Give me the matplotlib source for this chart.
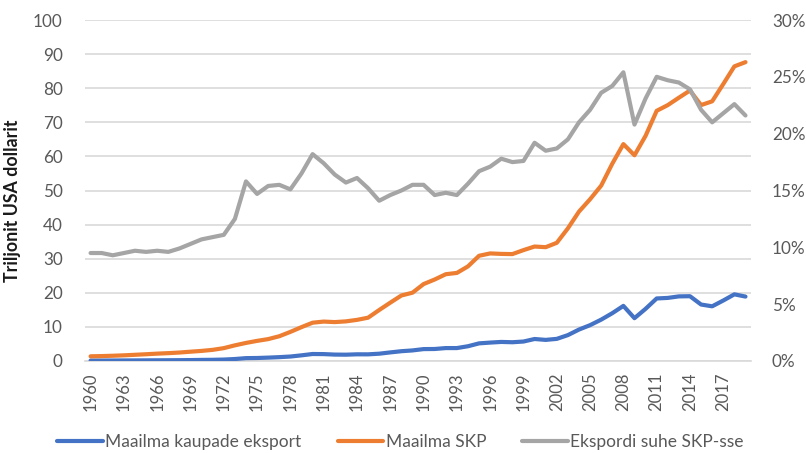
import matplotlib
matplotlib.use("Agg")
import matplotlib.pyplot as plt
from matplotlib.ticker import FuncFormatter, MultipleLocator

plt.rcParams['font.family'] = ['Lato', 'DejaVu Sans']

years = list(range(1960, 2020))

exports = [0.13, 0.13, 0.14, 0.16, 0.17, 0.19, 0.20, 0.22, 0.24, 0.27,
           0.32, 0.35, 0.42, 0.58, 0.84, 0.88, 0.99, 1.13, 1.31, 1.66,
           2.05, 2.02, 1.88, 1.85, 1.96, 1.95, 2.14, 2.52, 2.87, 3.10,
           3.49, 3.52, 3.79, 3.79, 4.33, 5.17, 5.40, 5.59, 5.50, 5.71,
           6.45, 6.19, 6.49, 7.59, 9.22, 10.51, 12.13, 14.02, 16.16, 12.56,
           15.30, 18.34, 18.50, 18.95, 19.00, 16.56, 16.04, 17.74, 19.55, 18.89]

gdp = [1.38, 1.44, 1.54, 1.66, 1.82, 1.98, 2.16, 2.30, 2.48, 2.73,
       2.96, 3.27, 3.77, 4.59, 5.30, 5.90, 6.42, 7.26, 8.54, 9.93,
       11.23, 11.56, 11.41, 11.62, 12.06, 12.70, 14.95, 17.11, 19.21, 20.03,
       22.56, 23.90, 25.45, 25.83, 27.75, 30.86, 31.55, 31.41, 31.35, 32.52,
       33.57, 33.38, 34.66, 38.90, 43.81, 47.44, 51.43, 57.86, 63.61, 60.33,
       66.04, 73.37, 75.05, 77.22, 79.33, 75.05, 76.16, 81.23, 86.41, 87.65]

ratio_pct = [9.5, 9.5, 9.3, 9.5, 9.7, 9.6, 9.7, 9.6, 9.9, 10.3,
             10.7, 10.9, 11.1, 12.5, 15.8, 14.7, 15.4, 15.5, 15.1, 16.5,
             18.2, 17.4, 16.4, 15.7, 16.1, 15.2, 14.1, 14.6, 15.0, 15.5,
             15.5, 14.6, 14.8, 14.6, 15.6, 16.7, 17.1, 17.8, 17.5, 17.6,
             19.2, 18.5, 18.7, 19.5, 21.0, 22.1, 23.6, 24.2, 25.4, 20.8,
             23.1, 25.0, 24.7, 24.5, 23.9, 22.1, 21.0, 21.8, 22.6, 21.6]

tick_years = list(range(1960, 2018, 3))

labels = ["Maailma kaupade eksport", "Maailma SKP", "Ekspordi suhe SKP-sse"]
colors = ["#4472C4", "#ED7D31", "#A5A5A5"]
text_color = "#595959"

fig = plt.figure(figsize=(8.06, 4.53), dpi=100)
ax = fig.add_axes([0.1055, 0.2031, 0.9318 - 0.1055, 0.9558 - 0.2031])
ax2 = ax.twinx()

l1, = ax.plot(years, exports, color=colors[0], lw=3.0, solid_capstyle='round', zorder=3)
l2, = ax.plot(years, gdp, color=colors[1], lw=3.0, solid_capstyle='round', zorder=3)
l3, = ax2.plot(years, [v / 100 for v in ratio_pct], color=colors[2], lw=3.0,
               solid_capstyle='round', zorder=3)

ax.set_xlim(1959.5, 2019.5)
ax.set_ylim(0, 100)
ax2.set_ylim(0, 0.30)
ax.yaxis.set_major_locator(MultipleLocator(10))
ax2.yaxis.set_major_locator(MultipleLocator(0.05))
ax2.yaxis.set_major_formatter(FuncFormatter(lambda v, p: f"{v*100:.0f}%"))

ax.set_xticks(tick_years)
ax.set_xticklabels([str(y) for y in tick_years], rotation=90)

ax.grid(axis='y', color='#D9D9D9', lw=1.2, zorder=0)
ax.set_axisbelow(True)

for a in (ax, ax2):
    for s in a.spines.values():
        s.set_visible(False)
ax.spines['bottom'].set_visible(True)
ax.spines['bottom'].set_color('#D9D9D9')
ax.spines['bottom'].set_linewidth(1.2)

ax.tick_params(axis='y', length=0, pad=16, labelsize=12.3, labelcolor=text_color)
ax2.tick_params(axis='y', length=0, pad=15, labelsize=12.3, labelcolor=text_color)
ax.tick_params(axis='x', length=0, pad=8, labelsize=12, labelcolor=text_color)

ax.set_ylabel("Triljonit USA dollarit", fontsize=12.8, fontweight='bold',
              color='#1a1a1a')
ax.yaxis.set_label_coords(-0.096, 0.47)

leg = fig.legend([l1, l2, l3], labels, loc='center', bbox_to_anchor=(0.497, 0.024),
                 ncol=3, frameon=False, fontsize=12.5, handlelength=2.6,
                 handletextpad=0.15, columnspacing=2.1, labelcolor=text_color)
for h in leg.legend_handles:
    h.set_linewidth(3.0)

fig.savefig("out.png", dpi=100)
